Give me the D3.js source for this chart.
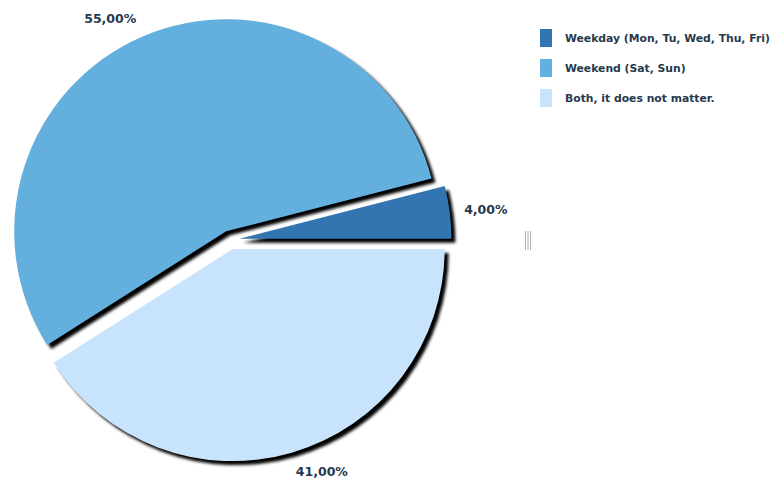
<!DOCTYPE html>
<html>
<head>
<meta charset="utf-8">
<script src="https://cdn.jsdelivr.net/npm/d3@7"></script>
<style>
  html, body { margin: 0; padding: 0; background: #fff; }
  svg { display: block; }
  text { font-family: "DejaVu Sans", Verdana, sans-serif; font-weight: bold; }
</style>
</head>
<body>
<svg id="chart" width="775" height="481"></svg>
<script>
// Preferred day for the event
const categories = ["Weekday (Mon, Tu, Wed, Thu, Fri)", "Weekend (Sat, Sun)", "Both, it does not matter."];
const shares = [4, 55, 41];
const valueLabels = ["4,00%", "55,00%", "41,00%"];
const colors = ["#3275b0", "#63afdd", "#c8e4fc"];

const width = 775, height = 481;
const cx = 230, cy = 240;
const radius = 212;
const explode = 9.5;
const labelRx = 236, labelRy = 241;

const svg = d3.select("#chart");

// soft black drop shadow under each slice
const defs = svg.append("defs");
defs.append("filter")
  .attr("id", "blur")
  .attr("x", "-10%").attr("y", "-10%").attr("width", "120%").attr("height", "120%")
  .append("feGaussianBlur").attr("stdDeviation", 1.6);

// slices start at 3 o'clock and run counter-clockwise
const pie = d3.pie().sort(null).value(d => d)
  .startAngle(Math.PI / 2)
  .endAngle(Math.PI / 2 - 2 * Math.PI);
const arcs = pie(shares);
const arc = d3.arc().innerRadius(0).outerRadius(radius);

const midAngle = d => (d.startAngle + d.endAngle) / 2;
const shift = d => [Math.sin(midAngle(d)) * explode, -Math.cos(midAngle(d)) * explode];

const g = svg.append("g").attr("transform", `translate(${cx},${cy})`);

g.append("g").attr("class", "shadows")
  .selectAll("path").data(arcs).join("path")
  .attr("d", arc)
  .attr("fill", "#000")
  .attr("filter", "url(#blur)")
  .attr("transform", d => { const [x, y] = shift(d); return `translate(${x + 4},${y + 4})`; });

g.append("g").attr("class", "slices")
  .selectAll("path").data(arcs).join("path")
  .attr("d", arc)
  .attr("fill", (d, i) => colors[i])
  .attr("transform", d => { const [x, y] = shift(d); return `translate(${x},${y})`; });

g.append("g").attr("class", "labels")
  .selectAll("text").data(arcs).join("text")
  .attr("x", d => Math.sin(midAngle(d)) * labelRx)
  .attr("y", d => -Math.cos(midAngle(d)) * labelRy)
  .attr("text-anchor", d => Math.sin(midAngle(d)) >= 0 ? "start" : "end")
  .attr("dominant-baseline", "central")
  .attr("font-size", 12.5)
  .attr("fill", "#26394d")
  .text((d, i) => valueLabels[i]);

// legend
const legend = svg.append("g").attr("transform", "translate(540,29)");
const items = legend.selectAll("g").data(categories).join("g")
  .attr("transform", (d, i) => `translate(0,${i * 30})`);
items.append("rect")
  .attr("width", 12).attr("height", 18)
  .attr("fill", (d, i) => colors[i]);
items.append("text")
  .attr("x", 25).attr("y", 9)
  .attr("dominant-baseline", "central")
  .attr("font-size", 10.8)
  .attr("fill", "#26394d")
  .text(d => d);

// resize grip
svg.append("g").attr("stroke", "#b0b0b0").attr("stroke-width", 1)
  .selectAll("line").data([0, 1, 2]).join("line")
  .attr("x1", i => 525.5 + i * 2.5).attr("x2", i => 525.5 + i * 2.5)
  .attr("y1", 231).attr("y2", 250);
</script>
</body>
</html>
